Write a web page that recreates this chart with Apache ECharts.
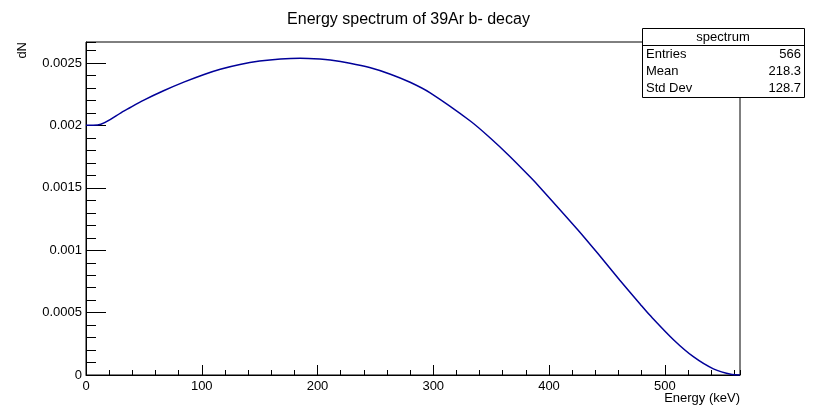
<!DOCTYPE html>
<html>
<head>
<meta charset="utf-8">
<script src="https://cdn.jsdelivr.net/npm/echarts@6/dist/echarts.min.js"></script>
<style>html,body{margin:0;padding:0;background:#fff;}#c{width:817px;height:414px;}</style>
</head>
<body>
<div id="c"></div>
<script>
const energy = [0, 10, 33, 50, 67, 85, 102, 116, 133, 150, 168, 185, 202, 211, 228, 245, 263, 280, 297, 332, 349, 366, 384, 392, 425, 444, 461, 479, 487, 508, 525, 542, 558, 565];
const dN = [0.002003, 0.002005, 0.002118, 0.002204, 0.002279, 0.00235, 0.00241, 0.002452, 0.00249, 0.002517, 0.002534, 0.00254, 0.002534, 0.002526, 0.0025, 0.002465, 0.002412, 0.002347, 0.002264, 0.0020365, 0.0019022, 0.0017543, 0.0015851, 0.0015059, 0.0011627, 0.0009537, 0.000762, 0.0005653, 0.0004805, 0.0002789, 0.0001446, 0.0000494, 0.000004, 0];
const titleText = 'Energy spectrum of 39Ar b- decay';
const xTitle = 'Energy (keV)';
const yTitle = 'dN';
const statsName = 'spectrum';
const statsLabels = ['Entries', 'Mean', 'Std Dev'];
const statsValues = ['566', '218.3', '128.7'];
const xMin = 0, xMax = 565, yMin = 0, yMax = 0.00267;

const font = 'Liberation Sans, Arial, Helvetica, sans-serif';
const chart = echarts.init(document.getElementById('c'), null, {renderer: 'canvas'});
const G = {l: 86, r: 740, t: 42, b: 375};
const box = {x: 642, y: 28, w: 162, h: 69};

const graphics = [
  {type: 'text', rotation: Math.PI / 2, x: 22, y: 42, z: 100,
   style: {text: yTitle, font: '13px ' + font, fill: '#000', align: 'right', verticalAlign: 'middle'}},
  {type: 'text', x: G.r, y: 392, z: 100,
   style: {text: xTitle, font: '13px ' + font, fill: '#000', align: 'right', verticalAlign: 'top'}},
  {type: 'rect', z: 100, shape: {x: box.x + 0.5, y: box.y + 0.5, width: box.w, height: box.h},
   style: {fill: '#fff', stroke: '#000', lineWidth: 1}},
  {type: 'line', z: 101, shape: {x1: box.x, y1: 45.5, x2: box.x + box.w, y2: 45.5},
   style: {stroke: '#000', lineWidth: 1}},
  {type: 'text', z: 102, x: box.x + box.w / 2, y: 37,
   style: {text: statsName, font: '13px ' + font, fill: '#000', align: 'center', verticalAlign: 'middle'}}
];
const rowY = [54, 71, 88];
statsLabels.forEach((lab, i) => {
  graphics.push({type: 'text', z: 102, x: box.x + 4, y: rowY[i],
    style: {text: lab, font: '13px ' + font, fill: '#000', align: 'left', verticalAlign: 'middle'}});
  graphics.push({type: 'text', z: 102, x: box.x + box.w - 3, y: rowY[i],
    style: {text: statsValues[i], font: '13px ' + font, fill: '#000', align: 'right', verticalAlign: 'middle'}});
});

chart.setOption({
  animation: false,
  backgroundColor: '#fff',
  textStyle: {fontFamily: font},
  title: {text: titleText, left: 'center', top: 7,
    textStyle: {fontFamily: font, fontSize: 16, fontWeight: 'normal', color: '#000'}},
  grid: {left: G.l, right: 817 - G.r, top: G.t, bottom: 414 - G.b, show: true,
    borderColor: '#000', borderWidth: 1, backgroundColor: 'transparent'},
  xAxis: [
    {type: 'value', min: xMin, max: xMax, interval: 100,
     axisLine: {show: true, onZero: false, lineStyle: {color: '#000', width: 1}},
     axisTick: {show: true, inside: true, length: 10, lineStyle: {color: '#000'}},
     axisLabel: {show: true, color: '#000', fontSize: 13, fontFamily: font, margin: 5, showMaxLabel: false},
     splitLine: {show: false}},
    {type: 'value', min: xMin, max: xMax, interval: 20, position: 'bottom',
     axisLine: {show: false},
     axisTick: {show: true, inside: true, length: 5, lineStyle: {color: '#000'}},
     axisLabel: {show: false}, splitLine: {show: false}}
  ],
  yAxis: [
    {type: 'value', min: yMin, max: yMax, interval: 0.0005,
     axisLine: {show: true, onZero: false, lineStyle: {color: '#000', width: 1}},
     axisTick: {show: true, inside: true, length: 20, lineStyle: {color: '#000'}},
     axisLabel: {show: true, color: '#000', fontSize: 13, fontFamily: font, margin: 4, showMaxLabel: false},
     splitLine: {show: false}},
    {type: 'value', min: yMin, max: yMax, interval: 0.0001, position: 'left',
     axisLine: {show: false},
     axisTick: {show: true, inside: true, length: 10, lineStyle: {color: '#000'}},
     axisLabel: {show: false}, splitLine: {show: false}}
  ],
  series: [{
    type: 'line', xAxisIndex: 0, yAxisIndex: 0,
    data: energy.map((e, i) => [e, dN[i]]),
    showSymbol: false, smooth: 0.3,
    lineStyle: {color: '#000099', width: 1.5}
  }],
  graphic: graphics
});
</script>
</body>
</html>
